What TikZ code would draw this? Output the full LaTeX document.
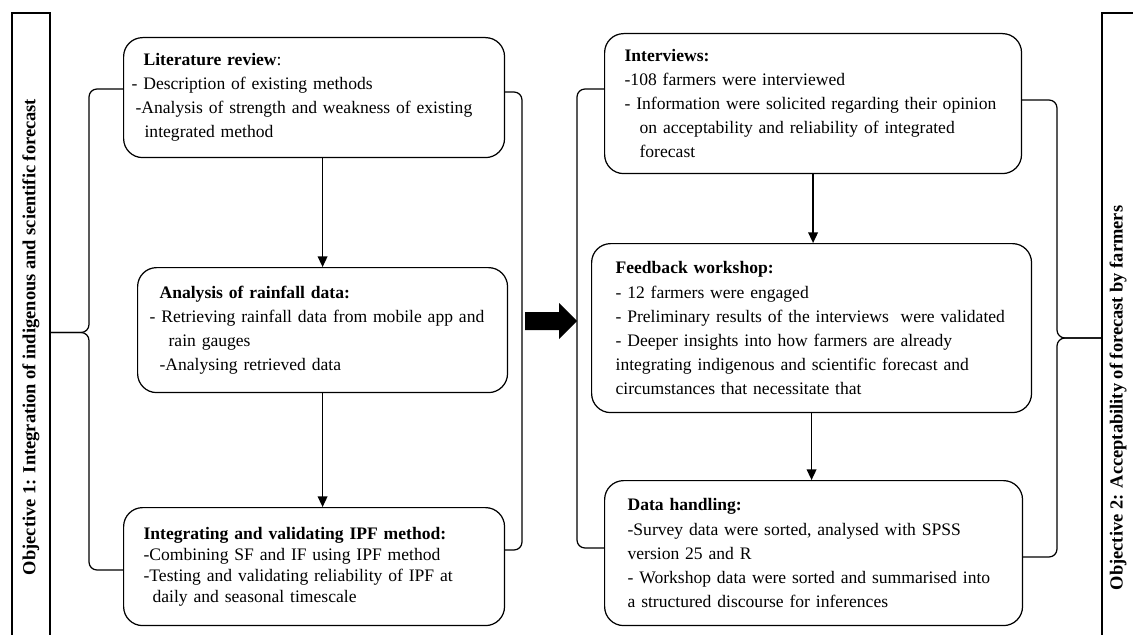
\documentclass[tikz,border=0pt]{standalone}
\usepackage{fontspec}
\setmainfont{Liberation Serif}
\usepackage{tikz}
\usetikzlibrary{arrows.meta, calc}
\newcommand{\stagefont}{\fontsize{10}{13.7}\selectfont}

\begin{document}
\begin{tikzpicture}[
    x=0.02cm, y=-0.02cm,
    stagebox/.style={draw, line width=0.7pt, rounded corners=0.38cm, anchor=north west, align=left, inner ysep=0pt, font=\stagefont},
    objtext/.style={rotate=90, font=\fontsize{10.5}{12}\selectfont\bfseries, inner sep=0pt},
    objframe/.style={draw, line width=0.7pt},
    bracepath/.style={draw, line width=0.7pt, rounded corners=0.16cm},
    arr/.style={-{Triangle[width=5.5pt,length=6pt]}, line width=0.7pt}
]
\useasboundingbox (0,0) rectangle (1133,635);
\node[stagebox, text width=7.3cm, minimum width=7.62cm, minimum height=2.4cm, inner xsep=0.16cm] (lit) at (123,37)
  {\hspace*{0.24cm}\textbf{Literature review}:\\
   - Description of existing methods\\
   \hspace*{0.08cm}\mbox{-Analysis of strength and weakness of existing}\\
   \hspace*{0.26cm}integrated method};
\node[stagebox, text width=6.92cm, minimum width=7.4cm, minimum height=2.5cm, inner xsep=0.24cm] (rain) at (137,267)
  {\hspace*{0.2cm}\textbf{Analysis of rainfall data:}\\
   \mbox{- Retrieving rainfall data from mobile app and}\\
   \hspace*{0.38cm}rain gauges\\
   \hspace*{0.2cm}-Analysing retrieved data};
\node[stagebox, text width=6.82cm, minimum width=7.62cm, minimum height=2.36cm, inner xsep=0.4cm, font=\fontsize{10}{11.9}\selectfont] (ipf) at (123,507)
  {\textbf{Integrating and validating IPF method:}\\
   -Combining SF and IF using IPF method\\
   \mbox{-Testing and validating reliability of IPF at}\\
   \hspace*{0.18cm}daily and seasonal timescale};
\node[stagebox, text width=7.54cm, minimum width=8.34cm, minimum height=2.8cm, inner xsep=0.4cm] (inter) at (604,33)
  {\textbf{Interviews:}\\
   -108 farmers were interviewed\\
   \mbox{- Information were solicited regarding their opinion}\\
   \hspace*{0.3cm}\mbox{on acceptability and reliability of integrated}\\
   \hspace*{0.3cm}forecast};
\node[stagebox, text width=7.84cm, minimum width=8.8cm, minimum height=3.38cm, inner xsep=0.48cm] (feed) at (591,243)
  {\textbf{Feedback workshop:}\\
   - 12 farmers were engaged\\
   \mbox{- Preliminary results of the interviews\ \ were validated}\\
   \mbox{- Deeper insights into how farmers are already}\\
   \mbox{integrating indigenous and scientific forecast and}\\
   circumstances that necessitate that};
\node[stagebox, text width=7.44cm, minimum width=8.36cm, minimum height=2.9cm, inner xsep=0.46cm] (data) at (604,480)
  {\textbf{Data handling:}\\
   \mbox{-Survey data were sorted, analysed with SPSS}\\
   version 25 and R\\
   \mbox{- Workshop data were sorted and summarised into}\\
   a structured discourse for inferences};
\node[objtext] (obj1) at (31,337) {Objective 1: Integration of indigenous and scientific forecast};
\node[objtext] (obj2) at (1118,398) {Objective 2: Acceptability of forecast by farmers};
\draw[objframe] (12,640) |- (50,13) -- (50,640);
\draw[objframe] (1102,640) |- (1140,13);
\coordinate (laT) at (89,89);
\coordinate (laM) at (89,332.5);
\coordinate (laB) at (89,570);
\coordinate (tipL) at (50,332.5);
\coordinate (lbT) at (522,92);
\coordinate (lbB) at (522,550);
\coordinate (raT) at (577,89);
\coordinate (raB) at (577,548);
\coordinate (rbT) at (1057,100);
\coordinate (rbM) at (1057,338);
\coordinate (rbB) at (1057,557);
\coordinate (tipR) at (1102,338);
\coordinate (jL) at (525,321);
\coordinate (jR) at (577,321);
\draw[bracepath] (lit.west |- laT) -- (laT) -- (laM) -- (tipL);
\draw[bracepath] (tipL) -- (laM) -- (laB) -- (ipf.west |- laB);
\draw[bracepath] (lit.east |- lbT) -- (lbT) -- (lbB) -- (ipf.east |- lbB);
\draw[bracepath] (inter.west |- raT) -- (raT) -- (raB) -- (data.west |- raB);
\draw[bracepath] (inter.east |- rbT) -- (rbT) -- (rbM) -- (tipR);
\draw[bracepath] (tipR) -- (rbM) -- (rbB) -- (data.east |- rbB);
\fill (jL) ++(0,-9) -- ++(34,0) -- ++(0,-9) -- (jR) -- ++(-18,18) -- ++(0,-9) -- ++(-34,0) -- cycle;
\draw[arr] (lit.south -| rain.north) -- (rain.north);
\draw[arr] (rain.south) -- (rain.south |- ipf.north);
\draw[arr] (inter.south) -- (inter.south |- feed.north);
\draw[arr] (feed.south) -- (feed.south |- data.north);
\end{tikzpicture}
\end{document}
